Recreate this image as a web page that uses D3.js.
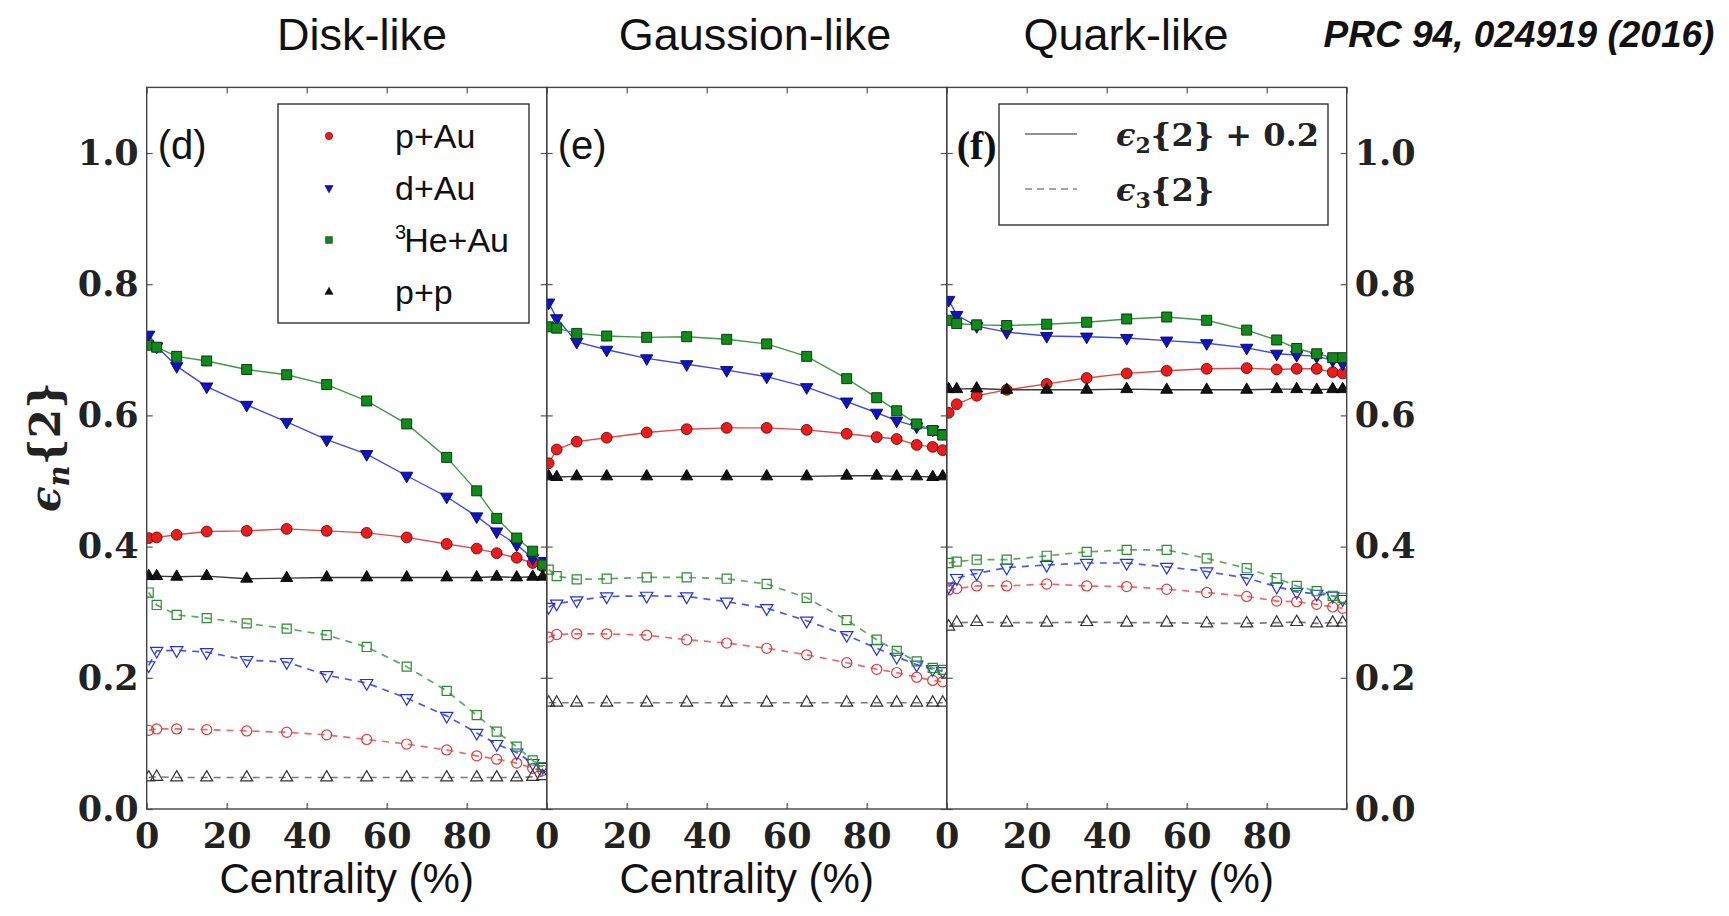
<!DOCTYPE html>
<html>
<head>
<meta charset="utf-8">
<script src="https://cdn.jsdelivr.net/npm/d3@7/dist/d3.min.js"></script>
<style>
  body { margin: 0; background: #ffffff; }
  svg { display: block; }
</style>
</head>
<body>
<svg id="chart" width="1729" height="916"></svg>
<script>
// Centrality bin centres (%)
const centrality = [0.5, 2.5, 7.5, 15, 25, 35, 45, 55, 65, 75, 82.5, 87.5, 92.5, 96.5, 99];

// ε2{2} is drawn shifted up by this amount
const e2Offset = 0.2;

// ---- Disk-like nucleon profile ----
const diskE2PAu = [0.213, 0.214, 0.218, 0.223, 0.224, 0.227, 0.224, 0.221, 0.214, 0.204, 0.197, 0.190, 0.183, 0.175, 0.170];
const diskE2DAu = [0.523, 0.505, 0.475, 0.444, 0.416, 0.390, 0.363, 0.341, 0.308, 0.276, 0.246, 0.223, 0.203, 0.182, 0.178];
const diskE2HeAu = [0.507, 0.504, 0.490, 0.483, 0.470, 0.462, 0.447, 0.422, 0.387, 0.336, 0.285, 0.243, 0.213, 0.193, 0.172];
const diskE2PP = [0.155, 0.155, 0.154, 0.155, 0.151, 0.152, 0.153, 0.153, 0.153, 0.153, 0.153, 0.154, 0.153, 0.154, 0.154];
const diskE3PAu = [0.120, 0.122, 0.122, 0.121, 0.119, 0.117, 0.113, 0.106, 0.099, 0.090, 0.081, 0.076, 0.070, 0.062, 0.059];
const diskE3DAu = [0.219, 0.241, 0.242, 0.239, 0.227, 0.224, 0.204, 0.192, 0.169, 0.142, 0.116, 0.099, 0.086, 0.070, 0.064];
const diskE3HeAu = [0.330, 0.311, 0.296, 0.291, 0.283, 0.275, 0.265, 0.247, 0.217, 0.180, 0.143, 0.118, 0.095, 0.074, 0.064];
const diskE3PP = [0.048, 0.049, 0.048, 0.048, 0.048, 0.048, 0.048, 0.048, 0.048, 0.048, 0.048, 0.048, 0.048, 0.049, 0.050];

// ---- Gaussian-like nucleon profile ----
const gaussE2PAu = [0.327, 0.348, 0.360, 0.366, 0.374, 0.379, 0.381, 0.381, 0.378, 0.372, 0.367, 0.364, 0.355, 0.352, 0.347];
const gaussE2DAu = [0.572, 0.548, 0.512, 0.500, 0.487, 0.478, 0.469, 0.459, 0.443, 0.421, 0.404, 0.392, 0.383, 0.378, 0.373];
const gaussE2HeAu = [0.535, 0.533, 0.525, 0.521, 0.519, 0.520, 0.516, 0.509, 0.490, 0.456, 0.427, 0.407, 0.387, 0.377, 0.370];
const gaussE2PP = [0.307, 0.306, 0.307, 0.307, 0.307, 0.307, 0.307, 0.307, 0.307, 0.308, 0.308, 0.307, 0.307, 0.306, 0.307];
const gaussE3PAu = [0.262, 0.266, 0.267, 0.267, 0.265, 0.258, 0.253, 0.245, 0.235, 0.223, 0.213, 0.208, 0.201, 0.196, 0.194];
const gaussE3DAu = [0.308, 0.313, 0.318, 0.324, 0.325, 0.324, 0.316, 0.306, 0.287, 0.265, 0.245, 0.232, 0.220, 0.213, 0.210];
const gaussE3HeAu = [0.365, 0.355, 0.350, 0.351, 0.353, 0.353, 0.351, 0.343, 0.322, 0.288, 0.258, 0.241, 0.225, 0.215, 0.212];
const gaussE3PP = [0.162, 0.162, 0.162, 0.162, 0.162, 0.162, 0.162, 0.162, 0.162, 0.162, 0.162, 0.162, 0.162, 0.162, 0.162];

// ---- Quark-like nucleon profile ----
const quarkE2PAu = [0.404, 0.417, 0.430, 0.439, 0.448, 0.457, 0.464, 0.468, 0.471, 0.472, 0.470, 0.471, 0.471, 0.466, 0.464];
const quarkE2DAu = [0.576, 0.553, 0.536, 0.527, 0.521, 0.520, 0.518, 0.514, 0.510, 0.503, 0.494, 0.492, 0.490, 0.484, 0.479];
const quarkE2HeAu = [0.545, 0.540, 0.538, 0.537, 0.539, 0.542, 0.547, 0.550, 0.545, 0.530, 0.515, 0.502, 0.494, 0.488, 0.488];
const quarkE2PP = [0.440, 0.440, 0.441, 0.439, 0.439, 0.439, 0.440, 0.439, 0.439, 0.439, 0.440, 0.440, 0.439, 0.440, 0.440];
const quarkE3PAu = [0.334, 0.336, 0.340, 0.340, 0.343, 0.340, 0.339, 0.335, 0.330, 0.324, 0.317, 0.316, 0.312, 0.308, 0.306];
const quarkE3DAu = [0.339, 0.352, 0.359, 0.368, 0.372, 0.375, 0.375, 0.369, 0.362, 0.352, 0.339, 0.331, 0.328, 0.325, 0.320];
const quarkE3HeAu = [0.375, 0.377, 0.380, 0.380, 0.386, 0.392, 0.395, 0.395, 0.382, 0.367, 0.352, 0.340, 0.332, 0.325, 0.322];
const quarkE3PP = [0.278, 0.284, 0.285, 0.284, 0.284, 0.285, 0.284, 0.284, 0.283, 0.283, 0.284, 0.285, 0.283, 0.284, 0.284];

// Axis ticks
const xTicks = [0, 20, 40, 60, 80, 100];
const yTicks = [0.0, 0.2, 0.4, 0.6, 0.8, 1.0];

const panelTitles = ["Disk-like", "Gaussion-like", "Quark-like"];
const panelTags = ["(d)", "(e)", "(f)"];
const systemNames = ["p+Au", "d+Au", "He+Au", "p+p"];

// Collision-system styles
const systems = [
  { key: "pAu", shape: d3.symbolCircle, fill: "#ec1c1c", edge: "#6a0a0a", line: "#e5494a", open: "#e43a3a", dash: "#ee6a6a", size: 92, openSize: 80, rot: 0 },
  { key: "dAu", shape: d3.symbolTriangle, fill: "#0f12c8", edge: "#07075a", line: "#3c4de0", open: "#2233dd", dash: "#4a5ae6", size: 66, openSize: 66, rot: 180 },
  { key: "HeAu", shape: d3.symbolSquare, fill: "#118a1c", edge: "#0b2a0b", line: "#3f9a45", open: "#2a8c2f", dash: "#5aac5e", size: 100, openSize: 82, rot: 0 },
  { key: "PP", shape: d3.symbolTriangle, fill: "#111111", edge: "#000000", line: "#3a3a3a", open: "#333333", dash: "#7a7a7a", size: 62, openSize: 62, rot: 0 }
];

const panels = [
  { e2: [diskE2PAu, diskE2DAu, diskE2HeAu, diskE2PP], e3: [diskE3PAu, diskE3DAu, diskE3HeAu, diskE3PP] },
  { e2: [gaussE2PAu, gaussE2DAu, gaussE2HeAu, gaussE2PP], e3: [gaussE3PAu, gaussE3DAu, gaussE3HeAu, gaussE3PP] },
  { e2: [quarkE2PAu, quarkE2DAu, quarkE2HeAu, quarkE2PP], e3: [quarkE3PAu, quarkE3DAu, quarkE3HeAu, quarkE3PP] }
];

// Layout
const left0 = 146.7, panelW = 400;
const y = d3.scaleLinear().domain([0, 1.1]).range([809, 87.4]);
const svg = d3.select("#chart");
const tickFont = "'DejaVu Serif', serif";
const sansFont = "'Liberation Sans', Arial, Helvetica, sans-serif";
const fmt = d3.format(".1f");

panels.forEach((p, i) => {
  const x0 = left0 + panelW * i;
  const x = d3.scaleLinear().domain([0, 100]).range([x0, x0 + panelW]);
  const g = svg.append("g");

  const clipId = "clip" + i;
  svg.append("clipPath").attr("id", clipId)
    .append("rect").attr("x", x0).attr("y", y(1.1)).attr("width", panelW).attr("height", y(0) - y(1.1));

  const plot = g.append("g").attr("clip-path", `url(#${clipId})`);

  // ε3{2}: dashed lines with open markers
  p.e3.forEach((vals, s) => {
    const st = systems[s];
    const pts = centrality.map((c, k) => [c, vals[k]]);
    plot.append("path")
      .attr("d", d3.line().x(d => x(d[0])).y(d => y(d[1]))(pts))
      .attr("fill", "none").attr("stroke", st.dash).attr("stroke-width", 1.7)
      .attr("stroke-dasharray", "7,6");
    plot.selectAll(null).data(pts).join("path")
      .attr("d", d3.symbol().type(st.shape).size(st.openSize))
      .attr("transform", d => `translate(${x(d[0])},${y(d[1])}) rotate(${st.rot})`)
      .attr("fill", "none").attr("stroke", st.open).attr("stroke-width", 1.2);
  });

  // ε2{2} + 0.2: solid lines with filled markers
  p.e2.forEach((vals, s) => {
    const st = systems[s];
    const pts = centrality.map((c, k) => [c, vals[k] + e2Offset]);
    plot.append("path")
      .attr("d", d3.line().x(d => x(d[0])).y(d => y(d[1]))(pts))
      .attr("fill", "none").attr("stroke", st.line).attr("stroke-width", 1.4);
    plot.selectAll(null).data(pts).join("path")
      .attr("d", d3.symbol().type(st.shape).size(st.size))
      .attr("transform", d => `translate(${x(d[0])},${y(d[1])}) rotate(${st.rot})`)
      .attr("fill", st.fill).attr("stroke", st.edge).attr("stroke-width", 0.9);
  });

  // Inward ticks on all four sides
  const bottom = g.append("g").attr("transform", `translate(0,${y(0)})`)
    .call(d3.axisBottom(x).tickValues(xTicks).tickSize(-6).tickSizeOuter(0).tickPadding(14)
      .tickFormat(d => d === 100 ? "" : d));
  const top = g.append("g").attr("transform", `translate(0,${y(1.1)})`)
    .call(d3.axisTop(x).tickValues(xTicks).tickSize(-6).tickSizeOuter(0).tickFormat(""));
  const leftAx = g.append("g").attr("transform", `translate(${x0},0)`)
    .call(d3.axisLeft(y).tickValues(yTicks).tickSize(-6).tickSizeOuter(0).tickPadding(8)
      .tickFormat(i === 0 ? fmt : ""));
  const rightAx = g.append("g").attr("transform", `translate(${x0 + panelW},0)`)
    .call(d3.axisRight(y).tickValues(yTicks).tickSize(-6).tickSizeOuter(0).tickPadding(8)
      .tickFormat(i === 2 ? fmt : ""));

  [bottom, top, leftAx, rightAx].forEach(a => {
    a.select(".domain").remove();
    a.selectAll(".tick line").attr("stroke", "#555").attr("stroke-width", 1.2);
    a.selectAll(".tick text")
      .attr("font-family", tickFont).attr("font-weight", "bold")
      .attr("font-size", 35).attr("fill", "#222");
  });

  // Frame
  g.append("rect").attr("x", x0).attr("y", y(1.1)).attr("width", panelW).attr("height", y(0) - y(1.1))
    .attr("fill", "none").attr("stroke", "#444").attr("stroke-width", 1.4);

  // Panel title and tag
  svg.append("text").attr("x", [362, 755, 1126][i]).attr("y", 50)
    .attr("text-anchor", "middle").attr("font-family", sansFont).attr("font-size", 45)
    .attr("fill", "#111").text(panelTitles[i]);
  const tag = svg.append("text").attr("x", x0 + 11).attr("y", 159)
    .attr("fill", "#111").text(panelTags[i]);
  if (i === 2) {
    tag.attr("font-family", "'Liberation Serif', 'Times New Roman', serif")
      .attr("font-weight", "bold").attr("font-size", 40).attr("x", x0 + 10);
  } else {
    tag.attr("font-family", sansFont).attr("font-size", 40);
  }

  // x-axis title
  svg.append("text").attr("x", x0 + panelW / 2).attr("y", 893)
    .attr("text-anchor", "middle").attr("font-family", sansFont).attr("font-size", 42)
    .attr("fill", "#111").text("Centrality (%)");
});

// Reference tag
svg.append("text").attr("x", 1519).attr("y", 47).attr("text-anchor", "middle")
  .attr("font-family", sansFont).attr("font-size", 37).attr("font-weight", "bold")
  .attr("font-style", "italic").attr("fill", "#111").text("PRC 94, 024919 (2016)");

// y-axis title ϵn{2}
const yl = svg.append("text").attr("transform", "translate(60,447) rotate(-90)")
  .attr("text-anchor", "middle").attr("font-family", tickFont).attr("font-weight", "bold")
  .attr("font-size", 42).attr("fill", "#222");
yl.append("tspan").attr("font-style", "italic").text("ϵ");
yl.append("tspan").attr("font-style", "italic").attr("font-size", 29).attr("dy", 9).text("n");
yl.append("tspan").attr("dy", -9).text("{2}");

// Legend: collision systems
const leg1 = svg.append("g");
leg1.append("rect").attr("x", 278).attr("y", 104).attr("width", 251).attr("height", 219)
  .attr("fill", "#fff").attr("stroke", "#333").attr("stroke-width", 1.4);
systems.forEach((st, s) => {
  const cy = 136 + s * 52;
  leg1.append("path").attr("d", d3.symbol().type(st.shape).size(st.size * 0.45))
    .attr("transform", `translate(329,${cy}) rotate(${st.rot})`)
    .attr("fill", st.fill).attr("stroke", st.edge).attr("stroke-width", 0.6);
  const t = leg1.append("text").attr("x", 395).attr("y", cy + 12)
    .attr("font-family", sansFont).attr("font-size", 34).attr("fill", "#111");
  if (st.key === "HeAu") {
    t.append("tspan").attr("font-size", 20).attr("dy", -13).text("3");
    t.append("tspan").attr("dy", 13).attr("dx", -2).text(systemNames[s]);
  } else {
    t.text(systemNames[s]);
  }
});

// Legend: harmonic order
const leg2 = svg.append("g");
leg2.append("rect").attr("x", 999).attr("y", 104).attr("width", 329).attr("height", 121)
  .attr("fill", "#fff").attr("stroke", "#333").attr("stroke-width", 1.4);
leg2.append("line").attr("x1", 1025).attr("x2", 1077).attr("y1", 134).attr("y2", 134)
  .attr("stroke", "#222").attr("stroke-width", 1.2);
leg2.append("line").attr("x1", 1025).attr("x2", 1077).attr("y1", 189).attr("y2", 189)
  .attr("stroke", "#888").attr("stroke-width", 1.4).attr("stroke-dasharray", "7,5");
[["2", "{2} + 0.2", 146], ["3", "{2}", 201]].forEach(([sub, rest, by]) => {
  const t = leg2.append("text").attr("x", 1116).attr("y", by)
    .attr("font-family", tickFont).attr("font-weight", "bold").attr("font-size", 32).attr("fill", "#222");
  t.append("tspan").attr("font-style", "italic").text("ϵ");
  t.append("tspan").attr("font-size", 22).attr("dy", 7).text(sub);
  t.append("tspan").attr("dy", -7).text(rest);
});
</script>
</body>
</html>
